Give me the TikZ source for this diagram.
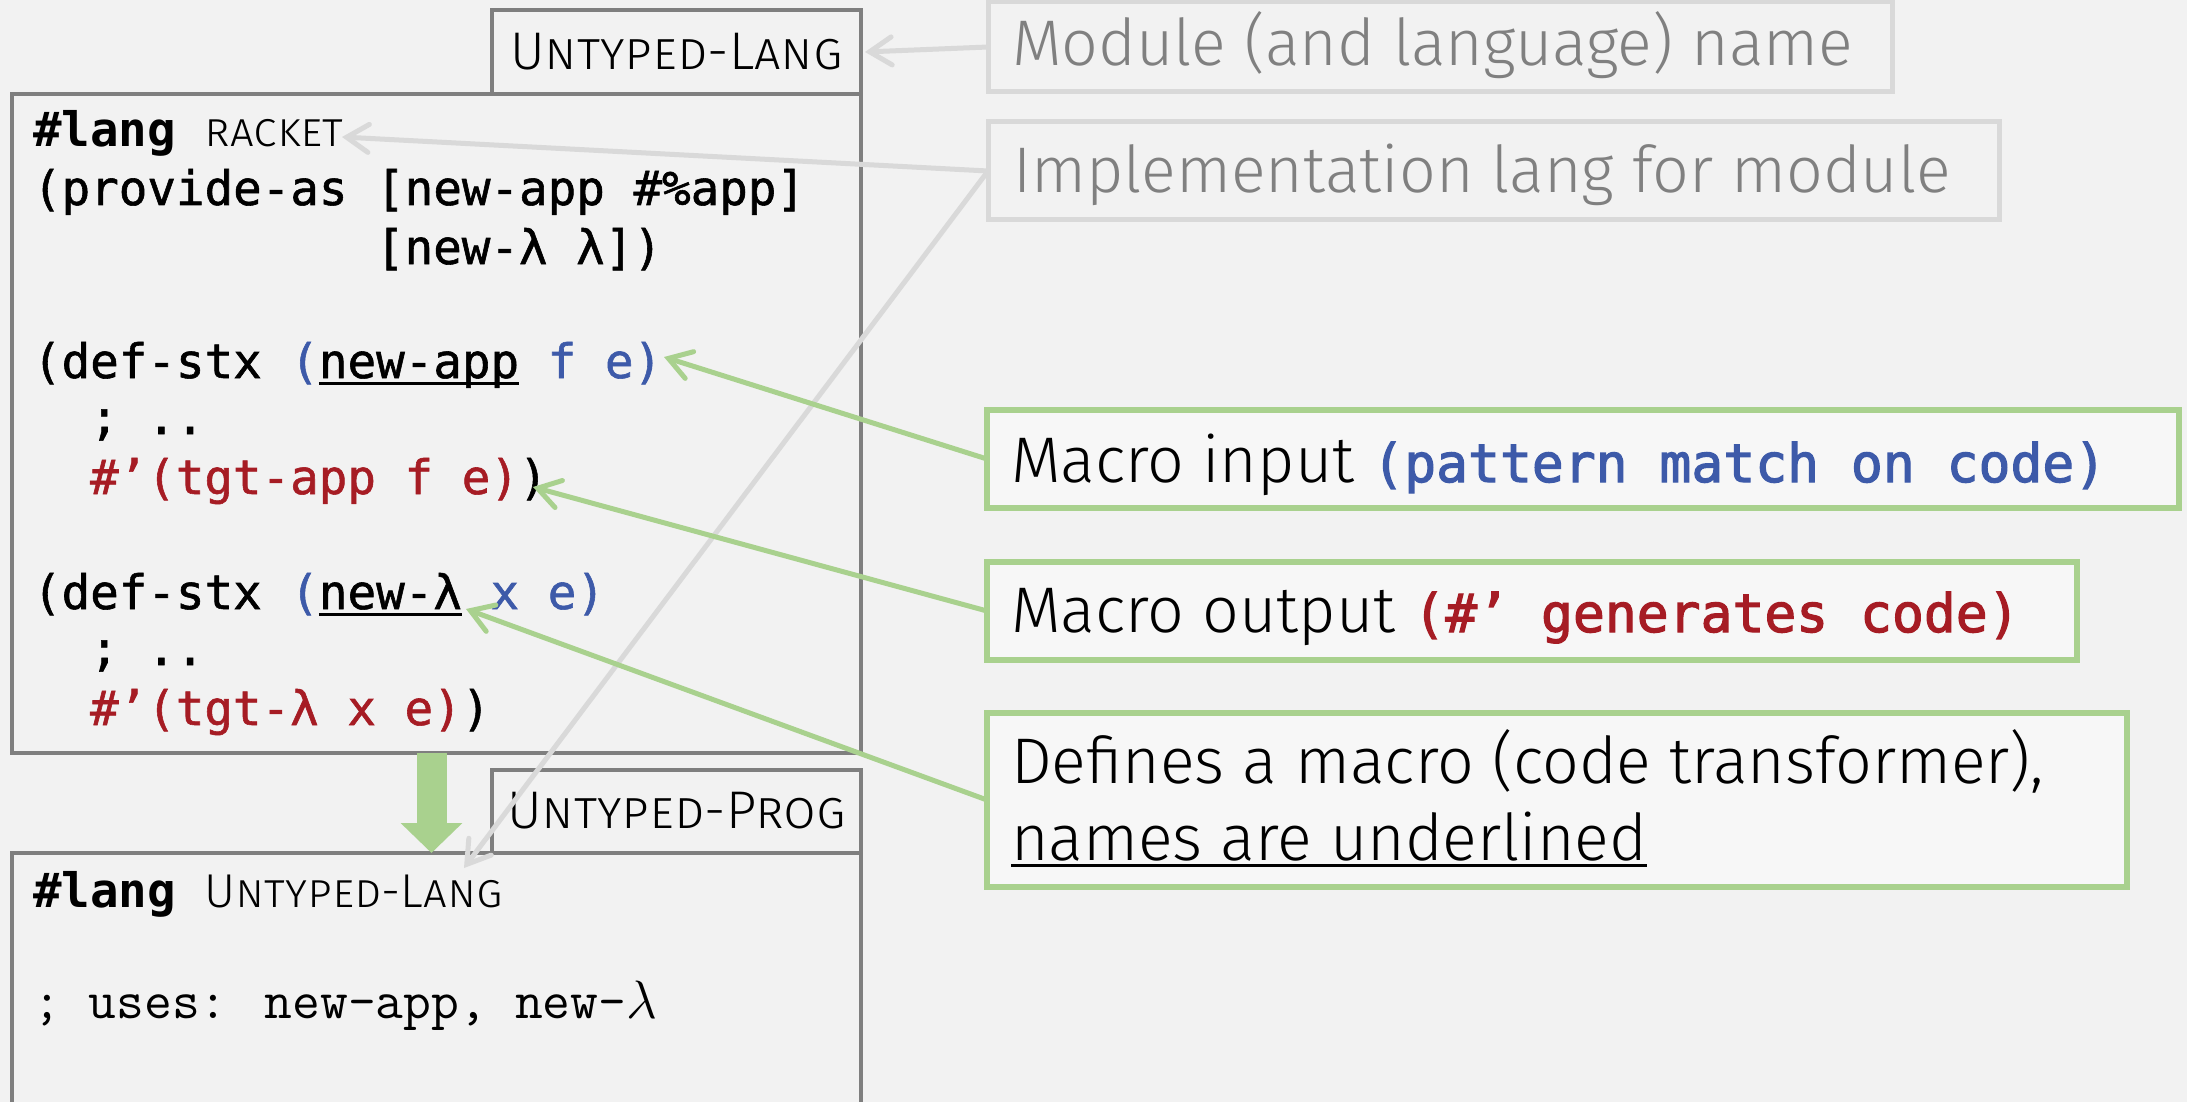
\RequirePackage{fix-cm}
\documentclass[tikz,border=0pt]{standalone}
\usepackage{fontspec}
\usetikzlibrary{arrows.meta,calc}

\newfontfamily\firalight{Fira Sans Light}
\newfontfamily\codefont{DejaVu Sans Mono}[UprightFeatures={FakeBold=1.2}]
\newfontfamily\heavycode{DejaVu Sans Mono}[UprightFeatures={FakeBold=2.2}]

\definecolor{bg}{HTML}{F2F2F2}
\definecolor{panel}{HTML}{F7F7F7}
\definecolor{frame}{HTML}{7F7F7F}
\definecolor{pale}{HTML}{D9D9D9}
\definecolor{paletext}{HTML}{808080}
\definecolor{leaf}{HTML}{A9D18E}
\definecolor{cblue}{HTML}{3D5AA9}
\definecolor{cred}{HTML}{A61C24}

% underline drawn as a rule just below the baseline
\newsavebox\ulbox
\newcommand\uln[1]{\sbox\ulbox{#1}\rlap{\rule[-6.5pt]{\wd\ulbox}{3pt}}\usebox\ulbox}

\newcommand\codesize{\fontsize{47.5}{58}\selectfont}
\newcommand\notesize{\fontsize{64.5}{77}\selectfont}
\newcommand\notecode{\heavycode\fontsize{53}{60}\selectfont}

\tikzset{
  modframe/.style={draw=frame, line width=3.5, fill=bg, inner sep=0, outer sep=0},
  paleframe/.style={draw=pale, line width=5, fill=bg, inner sep=0, outer sep=0},
  leafframe/.style={draw=leaf, line width=5.5, fill=panel, inner sep=0, outer sep=0},
  txt/.style={anchor=base west, inner sep=0, outer sep=0},
  code/.style={txt, font=\codefont\codesize},
  note/.style={txt, font=\firalight\notesize},
  tabtxt/.style={anchor=base, inner sep=0, outer sep=0, font=\firalight\fontsize{53}{60}\selectfont},
  paleptr/.style={draw=pale, line width=5, line cap=round,
    -{Straight Barb[length=22,width=28,line cap=round]}},
  leafptr/.style={draw=leaf, line width=5, line cap=round,
    -{Straight Barb[length=22,width=28,line cap=round]}},
}

\begin{document}
\begin{tikzpicture}[x=1pt,y=-1pt]
\useasboundingbox (0,0) rectangle (2187,1102);
\clip (0,0) rectangle (2187,1102);
\fill[bg] (0,0) rectangle (2187,1102);

% module boxes with their name tabs
\node[modframe, minimum width=369, minimum height=84] (tabA) at (676.5,52) {};
\node[modframe, minimum width=849, minimum height=659] (langmod) at (436.5,423.5) {};
\node[modframe, minimum width=369, minimum height=83] (tabB) at (676.5,811.5) {};
\node[modframe, minimum width=849, minimum height=400] (progmod) at (436.5,1053) {};

\node[tabtxt] (tabAtxt) at (676.5,70) {\scshape Untyped-Lang};
\node[tabtxt] (tabBtxt) at (676.5,828) {\scshape Untyped-Prog};

% language implementation
\node[code] (c1) at (33,147) {{\bfseries\#lang} {\firalight\scshape racket}};
\node[code] (c2) at (33,205) {(provide-as [new-app \#\%app]};
\node[code] (c3) at (376,264) {[new-λ λ])};
\node[code] (c4) at (33,378) {(def-stx \textcolor{cblue}{(}\uln{new-app} \textcolor{cblue}{f e)}};
\node[code] (c5) at (90,434) {; ..};
\node[code] (c6) at (90,494) {\textcolor{cred}{\#’(tgt-app f e)})};
\node[code] (c7) at (33,609) {(def-stx \textcolor{cblue}{(}\uln{new-λ} \textcolor{cblue}{x e)}};
\node[code] (c8) at (90,665) {; ..};
\node[code] (c9) at (90,725) {\textcolor{cred}{\#’(tgt-λ x e)})};

% program written in the new language
\node[code] (p1) at (33,907) {{\bfseries\#lang} {\firalight\scshape Untyped-Lang}};
\node[txt, font=\ttfamily\fontsize{54}{60}\selectfont] (p2) at (33,1018) {; uses: new-app, new-$\lambda$};

% expansion arrow
\draw[leaf, line width=30, -{Triangle[length=30,width=60]}]
  ($(langmod.south)+(-5,0)$) -- ($(progmod.north)+(-5,0)$);

% callouts
\node[paleframe, minimum width=904, minimum height=90] (modname) at (1440,47) {};
\node[note, text=paletext] (modnametxt) at (1012,66) {Module (and language) name};
\node[paleframe, minimum width=1011, minimum height=98] (impl) at (1493.5,171) {};
\node[note, text=paletext] (impltxt) at (1013,193) {Implementation lang for module};

\node[leafframe, minimum width=1192, minimum height=98] (minput) at (1583,459) {};
\node[note] (minputtxt) at (1011,482) {Macro input {\notecode\color{cblue}(pattern match on code)}};
\node[leafframe, minimum width=1090, minimum height=98] (moutput) at (1532,611) {};
\node[note] (moutputtxt) at (1011,632) {Macro output {\notecode\color{cred}(\#’ generates code)}};
\node[leafframe, minimum width=1140, minimum height=174] (mdef) at (1557,800) {};
\node[note] (mdeftxtA) at (1011,783) {Defines a macro (code transformer),};
\node[note] (mdeftxtB) at (1011,860) {\uln{names are underlined}};

% pointer ends
\coordinate (racketend) at (342,137);
\coordinate (languse) at (464,868);
\coordinate (append) at (664,357);
\coordinate (outend) at (533,487);
\coordinate (lamend) at (466,609);

\draw[paleptr] (modname.west) -- ($(tabA.east)+(4,0)$);
\draw[paleptr] (impl.west) -- (racketend);
\draw[paleptr] (impl.west) -- (languse);
\draw[leafptr] (minput.west) -- (append);
\draw[leafptr] (moutput.west) -- (outend);
\draw[leafptr] (mdef.west) -- (lamend);
\end{tikzpicture}
\end{document}
